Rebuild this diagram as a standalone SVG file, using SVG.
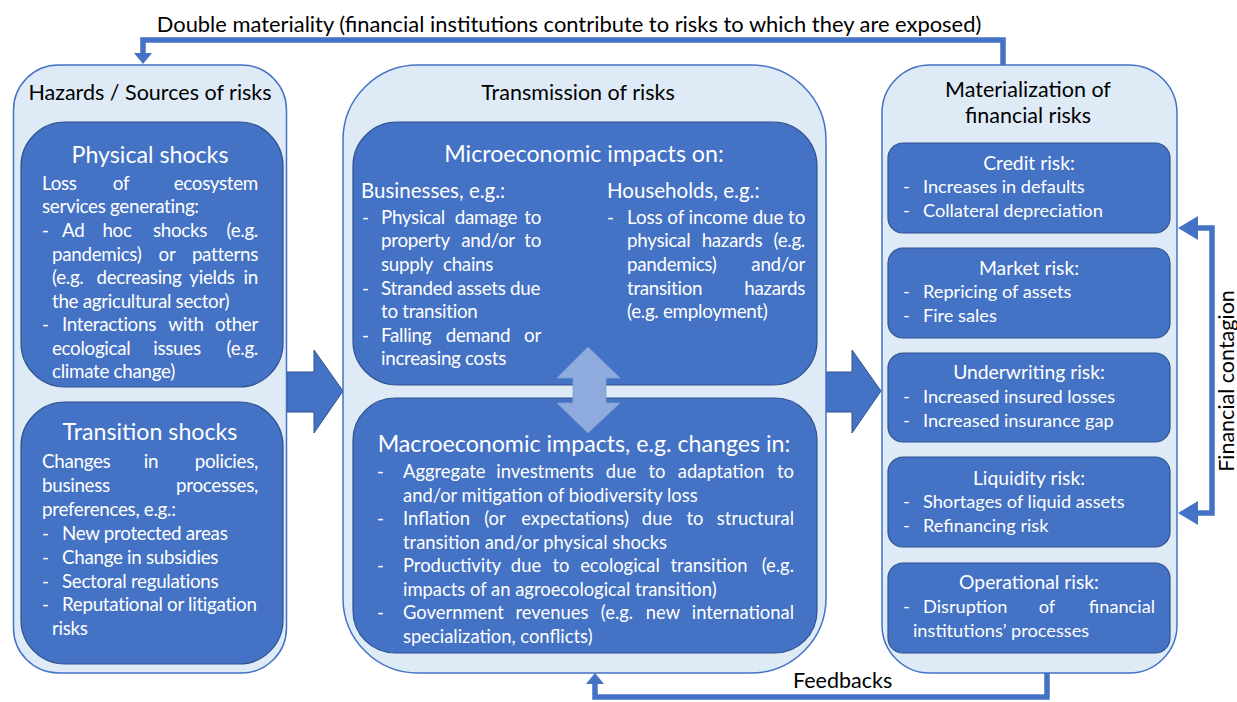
<svg xmlns="http://www.w3.org/2000/svg" width="1237" height="702" viewBox="0 0 1237 702">
<style>
text{font-family:Lato,"Liberation Sans",sans-serif}
.outer{fill:#DEEBF7;stroke:#4472C4;stroke-width:1.5}
.inner{fill:#4472C4;stroke:#2F528F;stroke-width:1.2}
.blk{fill:#000}
.w{fill:#fff}
.h1{font-size:23.2px}
.h2{font-size:21.5px}
.dm{font-size:21.9px}
.sub{font-size:20.5px}
.b{font-size:18.8px;letter-spacing:-0.3px}
.mb{font-size:18.4px}
.rb{font-size:18.2px}
.rt{font-size:19.3px}
.m{text-anchor:middle}
.e{text-anchor:end}
.conn{fill:none;stroke:#4472C4;stroke-width:5.5}
.head{fill:#4472C4}
.big{fill:#4472C4;stroke:#2F528F;stroke-width:1}
</style>

<g id="connectors">
  <path class="conn" d="M1003,65 V40 H143 V54"/>
  <polygon class="head" points="134,53 152,53 143,64"/>
  <path class="conn" d="M1047,673 V697 H595 V683"/>
  <polygon class="head" points="586,684 604,684 595,673"/>
  <path class="conn" d="M1196,228 H1212 V513 H1196"/>
  <polygon class="head" points="1178,228 1198,216 1198,240"/>
  <polygon class="head" points="1178,513 1198,501 1198,525"/>
  <polygon class="big" points="287,372 314,372 314,350 343,391 314,433 314,412 287,412"/>
  <polygon class="big" points="826,372 852,372 852,350 881,391 852,433 852,412 826,412"/>
  <text class="blk dm" x="569" y="32" text-anchor="middle">Double materiality (financial institutions contribute to risks to which they are exposed)</text>
  <text class="blk h2" x="793" y="688">Feedbacks</text>
  <text class="blk h2" transform="translate(1234,381) rotate(-90)" text-anchor="middle">Financial contagion</text>
</g>

<g id="hazards">
  <rect class="outer" x="13.5" y="65" width="273" height="608" rx="45"/>
  <text class="blk h2 m" x="150" y="100">Hazards / Sources of risks</text>
</g>

<g id="physical-shocks" class="w">
  <rect class="inner" x="21" y="122" width="262" height="265" rx="44"/>
  <text class="h1 m" x="150" y="163">Physical shocks</text>
  <g class="b">
    <text x="42" y="190">Loss</text><text class="m" x="121" y="190">of</text><text class="e" x="258" y="190">ecosystem</text>
    <text x="42" y="213">services generating:</text>
    <text x="42" y="237">-</text><text x="62" y="237">Ad</text><text class="m" x="117" y="237">hoc</text><text class="m" x="180" y="237">shocks</text><text class="e" x="258" y="237">(e.g.</text>
    <text x="52" y="261">pandemics)</text><text class="m" x="167" y="261">or</text><text class="e" x="258" y="261">patterns</text>
    <text x="52" y="284">(e.g.</text><text class="m" x="139" y="284">decreasing</text><text class="m" x="212" y="284">yields</text><text class="e" x="258" y="284">in</text>
    <text x="52" y="308">the agricultural sector)</text>
    <text x="42" y="331">-</text><text x="62" y="331">Interactions</text><text class="m" x="186" y="331">with</text><text class="e" x="258" y="331">other</text>
    <text x="52" y="355">ecological</text><text class="m" x="177" y="355">issues</text><text class="e" x="258" y="355">(e.g.</text>
    <text x="52" y="378">climate change)</text>
  </g>
</g>

<g id="transition-shocks" class="w">
  <rect class="inner" x="21" y="402" width="262" height="262" rx="44"/>
  <text class="h1 m" x="150" y="440">Transition shocks</text>
  <g class="b">
    <text x="42" y="468">Changes</text><text class="m" x="151" y="468">in</text><text class="e" x="258" y="468">policies,</text>
    <text x="42" y="492">business</text><text class="e" x="258" y="492">processes,</text>
    <text x="42" y="516">preferences, e.g.:</text>
    <text x="42" y="540">-</text><text x="62" y="540">New protected areas</text>
    <text x="42" y="564">-</text><text x="62" y="564">Change in subsidies</text>
    <text x="42" y="588">-</text><text x="62" y="588">Sectoral regulations</text>
    <text x="42" y="611">-</text><text x="62" y="611">Reputational or litigation</text>
    <text x="52" y="635">risks</text>
  </g>
</g>

<g id="transmission">
  <rect class="outer" x="343" y="65" width="483" height="608" rx="75"/>
  <text class="blk h2 m" x="578" y="100">Transmission of risks</text>
</g>

<g id="microeconomic" class="w">
  <rect class="inner" x="353" y="122" width="464" height="263" rx="44"/>
  <text class="h1 m" x="584" y="162">Microeconomic impacts on:</text>
  <text class="sub" x="361" y="198">Businesses, e.g.:</text>
  <text class="sub" x="607" y="198">Households, e.g.:</text>
  <g class="b">
    <text x="362" y="224">-</text><text x="381" y="224">Physical</text><text class="m" x="486" y="224">damage</text><text class="e" x="541" y="224">to</text>
    <text x="381" y="247">property</text><text class="m" x="488" y="247">and/or</text><text class="e" x="541" y="247">to</text>
    <text x="381" y="271">supply</text><text x="443" y="271">chains</text>
    <text x="362" y="295">-</text><text x="381" y="295" textLength="159" lengthAdjust="spacing">Stranded assets due</text>
    <text x="381" y="318">to transition</text>
    <text x="362" y="342">-</text><text x="381" y="342">Falling</text><text class="m" x="478" y="342">demand</text><text class="e" x="541" y="342">or</text>
    <text x="381" y="365">increasing costs</text>
    <text x="607" y="224">-</text><text x="627" y="224" textLength="178" lengthAdjust="spacing">Loss of income due to</text>
    <text x="627" y="247">physical</text><text class="m" x="732" y="247">hazards</text><text class="e" x="805" y="247">(e.g.</text>
    <text x="627" y="271">pandemics)</text><text class="e" x="805" y="271">and/or</text>
    <text x="627" y="295">transition</text><text class="e" x="805" y="295">hazards</text>
    <text x="627" y="318">(e.g. employment)</text>
  </g>
</g>

<g id="macroeconomic" class="w">
  <rect class="inner" x="353" y="398" width="464" height="255" rx="42"/>
  <text class="h1 m" x="584" y="452">Macroeconomic impacts, e.g. changes in:</text>
  <g class="mb">
    <text x="377" y="478">-</text><text x="403" y="478">Aggregate</text><text class="m" x="545" y="478">investments</text><text class="m" x="621" y="478">due</text><text class="m" x="657" y="478">to</text><text class="m" x="721" y="478">adaptation</text><text class="e" x="794" y="478">to</text>
    <text x="403" y="502">and/or mitigation of biodiversity loss</text>
    <text x="377" y="525">-</text><text x="403" y="525">Inflation</text><text class="m" x="495" y="525">(or</text><text class="m" x="575" y="525">expectations)</text><text class="m" x="657" y="525">due</text><text class="m" x="695" y="525">to</text><text class="e" x="794" y="525">structural</text>
    <text x="403" y="549">transition and/or physical shocks</text>
    <text x="377" y="572">-</text><text x="403" y="572">Productivity</text><text class="m" x="526" y="572">due</text><text class="m" x="561" y="572">to</text><text class="m" x="620" y="572">ecological</text><text class="m" x="709" y="572">transition</text><text class="e" x="794" y="572">(e.g.</text>
    <text x="403" y="596">impacts of an agroecological transition)</text>
    <text x="377" y="619">-</text><text x="403" y="619">Government</text><text class="m" x="552" y="619">revenues</text><text class="m" x="617" y="619">(e.g.</text><text class="m" x="663" y="619">new</text><text class="e" x="794" y="619">international</text>
    <text x="403" y="643">specialization, conflicts)</text>
  </g>
</g>

<g id="micro-macro-arrow">
  <polygon points="588,347 620,378 606,378 606,403 620,403 588,433 557,403 573,403 573,378 557,378" fill="#8FAADC" stroke="#7F9FD5" stroke-width="0.8"/>
</g>

<g id="materialization">
  <rect class="outer" x="882" y="65" width="295" height="608" rx="48"/>
  <text class="blk h2 m" x="1028" y="97">Materialization of</text>
  <text class="blk h2 m" x="1028" y="123">financial risks</text>
</g>

<g id="credit-risk" class="w">
  <rect class="inner" x="888" y="143" width="282" height="90" rx="15"/>
  <text class="rt m" x="1029" y="170">Credit risk:</text>
  <g class="rb"><text x="903" y="193">-</text><text x="923" y="193">Increases in defaults</text>
  <text x="903" y="217">-</text><text x="923" y="217">Collateral depreciation</text></g>
</g>

<g id="market-risk" class="w">
  <rect class="inner" x="888" y="248" width="282" height="90" rx="15"/>
  <text class="rt m" x="1029" y="275">Market risk:</text>
  <g class="rb"><text x="903" y="298">-</text><text x="923" y="298">Repricing of assets</text>
  <text x="903" y="322">-</text><text x="923" y="322">Fire sales</text></g>
</g>

<g id="underwriting-risk" class="w">
  <rect class="inner" x="888" y="353" width="282" height="89" rx="15"/>
  <text class="rt m" x="1029" y="379">Underwriting risk:</text>
  <g class="rb"><text x="903" y="403">-</text><text x="923" y="403">Increased insured losses</text>
  <text x="903" y="427">-</text><text x="923" y="427">Increased insurance gap</text></g>
</g>

<g id="liquidity-risk" class="w">
  <rect class="inner" x="888" y="457" width="282" height="90" rx="15"/>
  <text class="rt m" x="1029" y="485">Liquidity risk:</text>
  <g class="rb"><text x="903" y="508">-</text><text x="923" y="508">Shortages of liquid assets</text>
  <text x="903" y="532">-</text><text x="923" y="532">Refinancing risk</text></g>
</g>

<g id="operational-risk" class="w">
  <rect class="inner" x="888" y="563" width="282" height="90" rx="15"/>
  <text class="rt m" x="1029" y="589">Operational risk:</text>
  <g class="rb"><text x="903" y="613">-</text><text x="923" y="613">Disruption</text><text class="m" x="1047" y="613">of</text><text class="e" x="1155" y="613">financial</text>
  <text x="913" y="637">institutions’ processes</text></g>
</g>
</svg>
